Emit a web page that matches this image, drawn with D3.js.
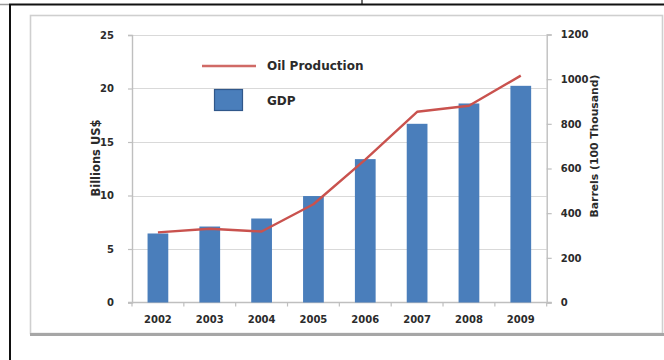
<!DOCTYPE html>
<html>
<head>
<meta charset="utf-8">
<script src="https://cdn.jsdelivr.net/npm/d3@7"></script>
<style>
  html, body { margin: 0; padding: 0; background: #fff; }
  svg { display: block; }
  text { font-family: "DejaVu Sans", sans-serif; fill: #2b2b2b; }
</style>
</head>
<body>
<svg id="chart" width="664" height="360"></svg>
<script>
// Annual figures, 2002-2009
const years = ["2002", "2003", "2004", "2005", "2006", "2007", "2008", "2009"];
const gdp = [6.45, 7.1, 7.85, 9.95, 13.4, 16.7, 18.6, 20.25];          // Billions US$
const oilProduction = [314, 330, 318, 440, 640, 854, 881, 1016];      // Barrels (100 Thousand)
const gdpTicks = [0, 5, 10, 15, 20, 25];
const oilTicks = [0, 200, 400, 600, 800, 1000, 1200];

const svg = d3.select("#chart");

// page frame and chart panel
svg.append("line").attr("x1", 0).attr("x2", 9).attr("y1", 4.5).attr("y2", 4.5)
  .attr("stroke", "#9a9a9a").attr("stroke-width", 1.5);
svg.append("line").attr("x1", 9).attr("x2", 664).attr("y1", 4.5).attr("y2", 4.5)
  .attr("stroke", "#111").attr("stroke-width", 2);
svg.append("line").attr("x1", 10).attr("x2", 10).attr("y1", 4).attr("y2", 360)
  .attr("stroke", "#111").attr("stroke-width", 2);
svg.append("line").attr("x1", 362).attr("x2", 362).attr("y1", 0).attr("y2", 4)
  .attr("stroke", "#111").attr("stroke-width", 1.2);

svg.append("rect").attr("x", 30.5).attr("y", 15.5).attr("width", 632).attr("height", 318)
  .attr("fill", "#fff").attr("stroke", "#cfcfcf").attr("stroke-width", 1.6);
svg.append("line").attr("x1", 30).attr("x2", 664).attr("y1", 334.5).attr("y2", 334.5)
  .attr("stroke", "#a6a6a6").attr("stroke-width", 3);

// plot area bounds and scales
const plotLeft = 132, plotRight = 546.7, plotTop = 35, plotBottom = 302.5;
const x = d3.scaleBand().domain(years).range([plotLeft, plotRight]).paddingInner(0.6).paddingOuter(0.3);
const yL = d3.scaleLinear().domain([0, 25]).range([plotBottom, plotTop]);
const yR = d3.scaleLinear().domain([0, 1200]).range([plotBottom, plotTop - 0.5]);

// horizontal gridlines
svg.append("g").selectAll("line").data(gdpTicks.slice(1)).join("line")
  .attr("x1", plotLeft).attr("x2", plotRight)
  .attr("y1", d => Math.round(yL(d)) + 0.5).attr("y2", d => Math.round(yL(d)) + 0.5)
  .attr("stroke", "#d9d9d9").attr("stroke-width", 1.2);

// left axis
const axisL = svg.append("g").attr("transform", `translate(${plotLeft},0)`)
  .call(d3.axisLeft(yL).tickValues(gdpTicks).tickFormat(d3.format("d")).tickSize(4).tickPadding(14));
axisL.selectAll("text").attr("font-size", 10).attr("font-weight", "bold")
  .attr("font-family", "DejaVu Sans").attr("fill", "#2b2b2b");

// right axis
const axisR = svg.append("g").attr("transform", `translate(${plotRight},0)`)
  .call(d3.axisRight(yR).tickValues(oilTicks).tickFormat(d3.format("d")).tickSize(5).tickPadding(9));
axisR.selectAll("text").attr("font-size", 10).attr("font-weight", "bold")
  .attr("font-family", "DejaVu Sans").attr("fill", "#2b2b2b");

[axisL, axisR].forEach(a => {
  a.select(".domain").attr("stroke", "#bfbfbf").attr("stroke-width", 1.4);
  a.selectAll(".tick line").attr("stroke", "#bfbfbf").attr("stroke-width", 1.2);
});

// bottom axis with ticks between categories
const axisB = svg.append("g");
axisB.append("line").attr("x1", plotLeft - 4).attr("x2", plotRight + 5)
  .attr("y1", plotBottom).attr("y2", plotBottom)
  .attr("stroke", "#bfbfbf").attr("stroke-width", 1.4);
const step = x.step();
const bounds = d3.range(years.length + 1).map(i => plotLeft + i * step);
axisB.selectAll("line.sep").data(bounds).join("line").attr("class", "sep")
  .attr("x1", d => d).attr("x2", d => d).attr("y1", plotBottom).attr("y2", plotBottom + 4)
  .attr("stroke", "#bfbfbf").attr("stroke-width", 1.2);
axisB.selectAll("text").data(years).join("text")
  .attr("x", d => x(d) + x.bandwidth() / 2).attr("y", 323)
  .attr("text-anchor", "middle").attr("font-size", 10).attr("font-weight", "bold")
  .text(d => d);

// GDP bars
svg.append("g").selectAll("rect").data(years).join("rect")
  .attr("x", d => x(d)).attr("width", x.bandwidth())
  .attr("y", (d, i) => yL(gdp[i])).attr("height", (d, i) => plotBottom - yL(gdp[i]))
  .attr("fill", "#4a7ebb");

// oil production line
const line = d3.line()
  .x((d, i) => x(years[i]) + x.bandwidth() / 2)
  .y(d => yR(d));
svg.append("path").datum(oilProduction).attr("d", line)
  .attr("fill", "none").attr("stroke", "#c9524e").attr("stroke-width", 2.4)
  .attr("stroke-linejoin", "round");

// axis titles
svg.append("text").attr("transform", "translate(96,158) rotate(-90)")
  .attr("text-anchor", "middle").attr("dominant-baseline", "middle")
  .attr("font-size", 11.5).attr("font-weight", "bold").text("Billions US$");
svg.append("text").attr("transform", "translate(595,146) rotate(-90)")
  .attr("text-anchor", "middle").attr("dominant-baseline", "middle")
  .attr("font-size", 10.8).attr("font-weight", "bold").text("Barrels (100 Thousand)");

// legend
const legend = svg.append("g");
legend.append("line").attr("x1", 202).attr("x2", 256).attr("y1", 66).attr("y2", 66)
  .attr("stroke", "#d06a66").attr("stroke-width", 2.4);
legend.append("text").attr("x", 267).attr("y", 66).attr("dominant-baseline", "middle")
  .attr("font-size", 12).attr("font-weight", "bold").text("Oil Production");
legend.append("rect").attr("x", 214.5).attr("y", 89.5).attr("width", 28).attr("height", 21)
  .attr("fill", "#4a7ebb").attr("stroke", "#30578a").attr("stroke-width", 1.2);
legend.append("text").attr("x", 267).attr("y", 101).attr("dominant-baseline", "middle")
  .attr("font-size", 12).attr("font-weight", "bold").text("GDP");
</script>
</body>
</html>
